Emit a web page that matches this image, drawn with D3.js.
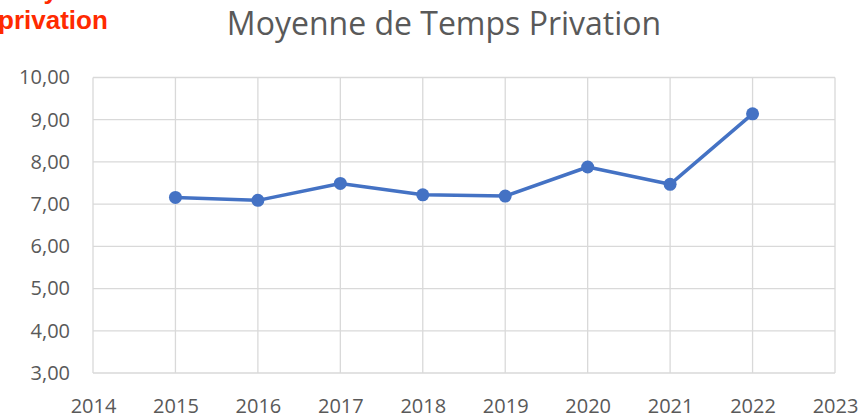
<!DOCTYPE html>
<html>
<head>
<meta charset="utf-8">
<script src="https://cdn.jsdelivr.net/npm/d3@7"></script>
<style>
  body { margin: 0; background: #fff; }
  svg { display: block; }
</style>
</head>
<body>
<div id="wrapper"></div>
<script>
// data
const years = [2015, 2016, 2017, 2018, 2019, 2020, 2021, 2022];
const moyenne = [7.16, 7.09, 7.49, 7.22, 7.19, 7.88, 7.47, 9.14];
const yTicks = [3, 4, 5, 6, 7, 8, 9, 10];
const xTicks = [2014, 2015, 2016, 2017, 2018, 2019, 2020, 2021, 2022, 2023];
const title = "Moyenne de Temps Privation";
const sideLabel = ["Moyenne", "privation"];

const dataset = years.map((y, i) => ({ year: y, value: moyenne[i] }));

let dimensions = {
  width: 864,
  height: 419,
  margin: { top: 77.5, right: 29, bottom: 46, left: 93 },
};
dimensions.boundedWidth = dimensions.width - dimensions.margin.left - dimensions.margin.right;
dimensions.boundedHeight = dimensions.height - dimensions.margin.top - dimensions.margin.bottom;

const wrapper = d3.select("#wrapper")
  .append("svg")
  .attr("width", dimensions.width)
  .attr("height", dimensions.height);

const bounds = wrapper.append("g")
  .attr("transform", `translate(${dimensions.margin.left},${dimensions.margin.top})`);

const xScale = d3.scaleLinear()
  .domain([2014, 2023])
  .range([0, dimensions.boundedWidth]);

const yScale = d3.scaleLinear()
  .domain([3, 10])
  .range([dimensions.boundedHeight, 0]);

const fr = d3.formatLocale({ decimal: ",", thousands: " ", grouping: [3], currency: ["", "€"] });
const fmt = fr.format(".2f");

const font = "'Open Sans', Lato, sans-serif";
const grey = "#595959";
const gridColor = "#d9d9d9";

// horizontal grid
bounds.append("g")
  .selectAll("line")
  .data(yTicks)
  .join("line")
  .attr("x1", 0)
  .attr("x2", dimensions.boundedWidth)
  .attr("y1", d => yScale(d))
  .attr("y2", d => yScale(d))
  .attr("stroke", gridColor)
  .attr("stroke-width", 1.3);

// vertical grid
bounds.append("g")
  .selectAll("line")
  .data(xTicks)
  .join("line")
  .attr("x1", d => xScale(d))
  .attr("x2", d => xScale(d))
  .attr("y1", 0)
  .attr("y2", dimensions.boundedHeight)
  .attr("stroke", gridColor)
  .attr("stroke-width", 1.3);

// y axis labels
const yAxis = bounds.append("g")
  .call(d3.axisLeft(yScale).tickValues(yTicks).tickFormat(fmt).tickSize(0).tickPadding(23));
yAxis.select(".domain").remove();
yAxis.selectAll("text")
  .attr("fill", grey)
  .style("font-family", font)
  .style("font-size", "20px");

// x axis labels
const xAxis = bounds.append("g")
  .attr("transform", `translate(0,${dimensions.boundedHeight})`)
  .call(d3.axisBottom(xScale).tickValues(xTicks).tickFormat(d3.format("d")).tickSize(0).tickPadding(26));
xAxis.select(".domain").remove();
xAxis.selectAll("text")
  .attr("fill", grey)
  .style("font-family", font)
  .style("font-size", "20px");

// line
const lineGenerator = d3.line()
  .x(d => xScale(d.year))
  .y(d => yScale(d.value));

bounds.append("path")
  .attr("d", lineGenerator(dataset))
  .attr("fill", "none")
  .attr("stroke", "#4472c4")
  .attr("stroke-width", 3.5)
  .attr("stroke-linejoin", "round");

bounds.append("g")
  .selectAll("circle")
  .data(dataset)
  .join("circle")
  .attr("cx", d => xScale(d.year))
  .attr("cy", d => yScale(d.value))
  .attr("r", 6.5)
  .attr("fill", "#4472c4");

// title
wrapper.append("text")
  .attr("x", 444)
  .attr("y", 35)
  .attr("text-anchor", "middle")
  .attr("fill", grey)
  .style("font-family", font)
  .style("font-size", "32px")
  .text(title);

// cut-off red label at top-left
const side = wrapper.append("text")
  .attr("fill", "#ff2a00")
  .style("font-family", "'Liberation Sans', Arial, sans-serif")
  .style("font-weight", "bold")
  .style("font-size", "26px");
side.append("tspan").attr("x", 6).attr("y", -1).text(sideLabel[0]);
side.append("tspan").attr("x", -2).attr("y", 29).text(sideLabel[1]);
</script>
</body>
</html>
